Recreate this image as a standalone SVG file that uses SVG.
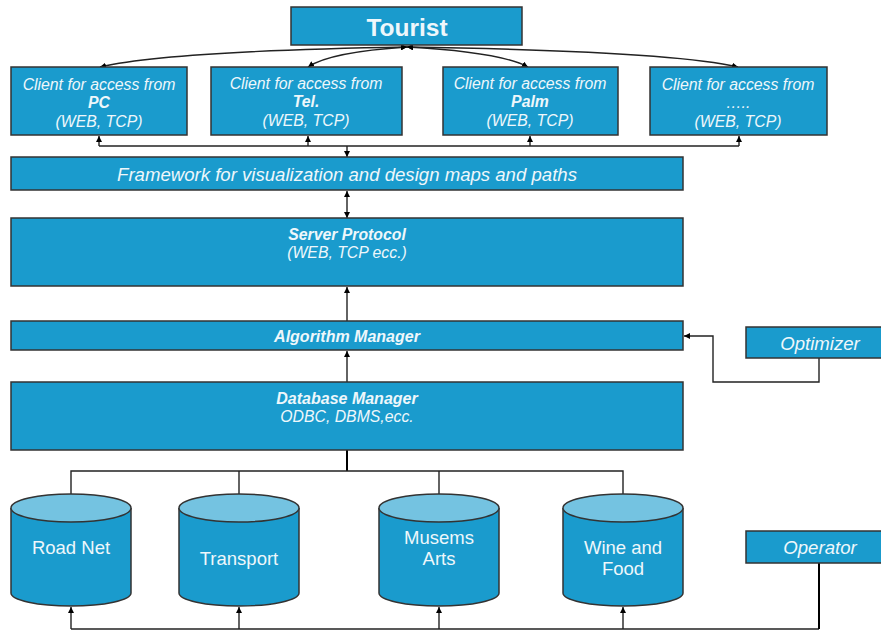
<svg xmlns="http://www.w3.org/2000/svg" width="881" height="630" viewBox="0 0 881 630">
<style>
.box{fill:#1a9bcd;stroke:#333;stroke-width:1.5}
.top{fill:#74c3e1;stroke:#333;stroke-width:1.5}
.t{font-family:"Liberation Sans",Arial,sans-serif;fill:#eef7fb;text-anchor:middle}
.i{font-style:italic}
.b{font-weight:bold}
.c{fill:none;stroke:#222;stroke-width:1.4}
.k{fill:none;stroke:#000;stroke-width:2}
</style>
<defs>
<marker id="ah" viewBox="0 0 10 10" refX="10" refY="5" markerWidth="6" markerHeight="6" orient="auto-start-reverse" markerUnits="userSpaceOnUse">
<path d="M0,0 L10,5 L0,10 z" fill="#000"/>
</marker>
</defs>
<rect width="881" height="630" fill="#fff"/>

<g id="connectors">
<path class="c" d="M407,47 Q170,51 100,67" marker-start="url(#ah)" marker-end="url(#ah)"/>
<path class="c" d="M407,47 Q330,52 308,67" marker-start="url(#ah)" marker-end="url(#ah)"/>
<path class="c" d="M407,47 Q500,52 528,67" marker-start="url(#ah)" marker-end="url(#ah)"/>
<path class="c" d="M407,47 Q670,51 738,67" marker-start="url(#ah)" marker-end="url(#ah)"/>
<path class="c" d="M99,146 H739"/>
<path class="c" d="M99,146 V136" marker-end="url(#ah)"/>
<path class="c" d="M308,146 V136" marker-end="url(#ah)"/>
<path class="c" d="M530,146 V136" marker-end="url(#ah)"/>
<path class="c" d="M739,146 V136" marker-end="url(#ah)"/>
<path class="c" d="M347,146 V157" marker-end="url(#ah)"/>
<path class="c" d="M347,191 V218" marker-start="url(#ah)" marker-end="url(#ah)"/>
<path class="c" d="M347,321 V287" marker-end="url(#ah)"/>
<path class="c" d="M347,382 V351" marker-end="url(#ah)"/>
<path class="c" d="M819,358 V382 H713 V336 H684" marker-end="url(#ah)"/>
<path class="k" d="M347,450 V471"/>
<path class="c" d="M71,494 V471 H623 V494"/>
<path class="c" d="M239,471 V494"/>
<path class="c" d="M439,471 V494"/>
<path class="c" d="M71,629 H819"/>
<path class="k" d="M819,563 V629"/>
<path class="c" d="M71,629 V607" marker-end="url(#ah)"/>
<path class="c" d="M239,629 V607" marker-end="url(#ah)"/>
<path class="c" d="M439,629 V607" marker-end="url(#ah)"/>
<path class="c" d="M623,629 V607" marker-end="url(#ah)"/>
</g>

<g id="tourist">
<rect class="box" x="291" y="7" width="231" height="38"/>
<text class="t b" x="407" y="36" font-size="24.5">Tourist</text>
</g>

<g id="client-pc">
<rect class="box" x="11" y="67" width="176" height="68"/>
<text class="t i" x="99" y="90" font-size="15.8">Client for access from</text>
<text class="t i b" x="99" y="108" font-size="15.8">PC</text>
<text class="t i" x="99" y="127" font-size="15.8">(WEB, TCP)</text>
</g>
<g id="client-tel">
<rect class="box" x="211" y="67" width="191" height="68"/>
<text class="t i" x="306" y="89" font-size="15.8">Client for access from</text>
<text class="t i b" x="306" y="107" font-size="15.8">Tel.</text>
<text class="t i" x="306" y="126" font-size="15.8">(WEB, TCP)</text>
</g>
<g id="client-palm">
<rect class="box" x="443" y="67" width="175" height="68"/>
<text class="t i" x="530" y="89" font-size="15.8">Client for access from</text>
<text class="t i b" x="530" y="107" font-size="15.8">Palm</text>
<text class="t i" x="530" y="126" font-size="15.8">(WEB, TCP)</text>
</g>
<g id="client-other">
<rect class="box" x="650" y="67" width="177" height="68"/>
<text class="t i" x="738" y="90" font-size="15.8">Client for access from</text>
<text class="t i" x="738" y="108" font-size="15.8">…..</text>
<text class="t i" x="738" y="127" font-size="15.8">(WEB, TCP)</text>
</g>

<g id="framework">
<rect class="box" x="11" y="157" width="672" height="33"/>
<text class="t i" x="347" y="181" font-size="18.6">Framework for visualization and design maps and paths</text>
</g>

<g id="server-protocol">
<rect class="box" x="11" y="218" width="672" height="68"/>
<text class="t i b" x="347" y="240" font-size="15.8">Server Protocol</text>
<text class="t i" x="347" y="258" font-size="15.8">(WEB, TCP ecc.)</text>
</g>

<g id="algorithm-manager">
<rect class="box" x="11" y="321" width="672" height="29"/>
<text class="t i b" x="347" y="342" font-size="16">Algorithm Manager</text>
</g>

<g id="optimizer">
<rect class="box" x="746" y="327" width="140" height="31"/>
<text class="t i" x="820" y="350" font-size="18.6">Optimizer</text>
</g>

<g id="database-manager">
<rect class="box" x="11" y="382" width="672" height="68"/>
<text class="t i b" x="347" y="404" font-size="16">Database Manager</text>
<text class="t i" x="347" y="422" font-size="15.8">ODBC, DBMS,ecc.</text>
</g>

<g id="road-net">
<path class="box" d="M11,508 V593 A60,13 0 0 0 131,593 V508"/>
<ellipse class="top" cx="71" cy="508" rx="60" ry="14"/>
<text class="t" x="71" y="554" font-size="18.5">Road Net</text>
</g>
<g id="transport">
<path class="box" d="M179,508 V593 A60,13 0 0 0 299,593 V508"/>
<ellipse class="top" cx="239" cy="508" rx="60" ry="14"/>
<text class="t" x="239" y="565" font-size="18.5">Transport</text>
</g>
<g id="museums-arts">
<path class="box" d="M379,508 V593 A60,13 0 0 0 499,593 V508"/>
<ellipse class="top" cx="439" cy="508" rx="60" ry="14"/>
<text class="t" x="439" y="544" font-size="18.5">Musems</text>
<text class="t" x="439" y="565" font-size="18.5">Arts</text>
</g>
<g id="wine-food">
<path class="box" d="M563,508 V593 A60,13 0 0 0 683,593 V508"/>
<ellipse class="top" cx="623" cy="508" rx="60" ry="14"/>
<text class="t" x="623" y="554" font-size="18.5">Wine and</text>
<text class="t" x="623" y="575" font-size="18.5">Food</text>
</g>

<g id="operator">
<rect class="box" x="746" y="531" width="140" height="32"/>
<text class="t i" x="820" y="554" font-size="18.6">Operator</text>
</g>
</svg>
